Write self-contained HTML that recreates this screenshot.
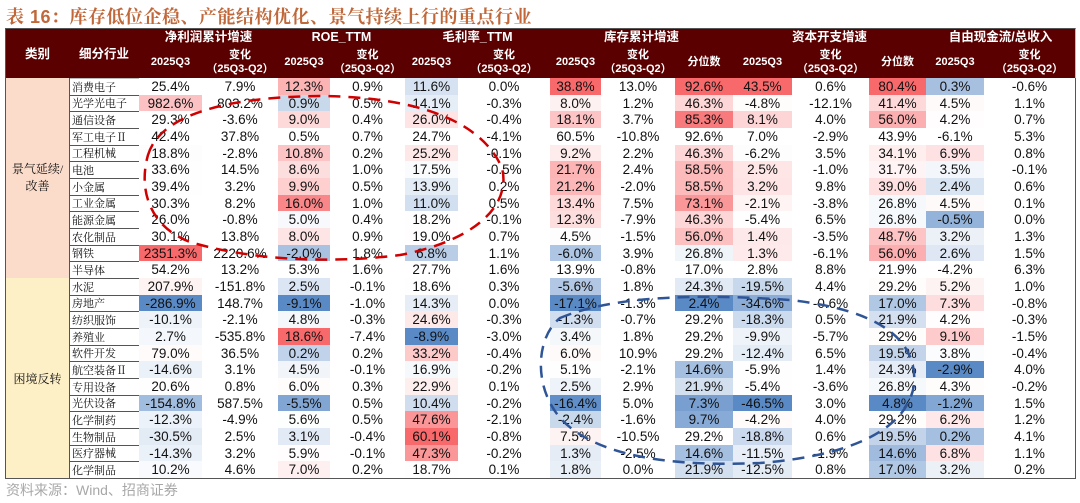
<!DOCTYPE html>
<html><head><meta charset="utf-8">
<style>
body{margin:0;width:1080px;height:503px;background:#fff;position:relative;overflow:hidden;font-family:"Liberation Sans","Noto Sans CJK SC",sans-serif;}
#title{position:absolute;left:6px;top:3px;font-size:18px;font-weight:bold;color:#c0683a;font-family:"Liberation Sans","Noto Serif CJK SC",serif;letter-spacing:0.5px;}
#src{position:absolute;left:6px;top:480px;font-size:14px;color:#a8a8a8;}
.c{position:absolute;box-sizing:border-box;border-right:1px solid #555;border-bottom:1px solid #555;display:flex;align-items:center;justify-content:center;font-size:13.5px;color:#111;white-space:nowrap;}
.h{background:#5a0000;color:#fff;font-size:11px;font-weight:bold;text-align:center;line-height:14px;border-color:#bbb;}
.g{font-size:12.5px;}
.n{justify-content:flex-start;padding-left:3px;font-size:11px;font-family:"Liberation Serif","Noto Serif CJK SC",serif;}
#tbl{position:absolute;left:0;top:0;}
svg{position:absolute;left:0;top:0;pointer-events:none;}
</style></head><body>
<div id="title">表 16：库存低位企稳、产能结构优化、景气持续上行的重点行业</div>
<div id="tbl"></div>
<svg width="1080" height="503">
<path d="M148,155 C160,115 225,97 320,96 C420,97 482,122 502,168 C512,208 470,242 400,255 C330,264 250,260 190,242 C150,227 138,190 148,155 Z" fill="none" stroke="#d00000" stroke-width="2.5" stroke-dasharray="12 8"/>
<path d="M560,318 C610,297 690,293 790,300 C880,310 918,340 914,385 C907,430 850,456 760,463 C670,467 598,456 563,421 C533,390 535,338 560,318 Z" fill="none" stroke="#2f5597" stroke-width="2.5" stroke-dasharray="12 8"/>
</svg>
<div id="src">资料来源：Wind、招商证券</div>
<script>
const industries=["消费电子","光学光电子","通信设备","军工电子Ⅱ","工程机械","电池","小金属","工业金属","能源金属","农化制品","钢铁","半导体","水泥","房地产","纺织服饰","养殖业","软件开发","航空装备Ⅱ","专用设备","光伏设备","化学制药","生物制品","医疗器械","化学制品"];
const netProfit=[25.4,982.6,29.3,42.4,18.8,33.6,39.4,30.3,26.0,30.1,2351.3,54.2,207.9,-286.9,-10.1,2.7,79.0,-14.6,20.6,-154.8,-12.3,-30.5,-14.3,10.2];
const netProfitChg=[7.9,803.2,-3.6,37.8,-2.8,14.5,3.2,8.2,-0.8,13.8,2220.6,13.2,-151.8,148.7,-2.1,-535.8,36.5,3.1,0.8,587.5,-4.9,2.5,3.2,4.6];
const roe=[12.3,0.9,9.0,0.5,10.8,8.6,9.9,16.0,5.0,8.0,-2.0,5.3,2.5,-9.1,4.8,18.6,0.2,4.5,6.0,-5.5,5.6,3.1,5.9,7.0];
const roeChg=[0.9,0.5,0.4,0.7,0.2,1.0,0.5,1.0,0.4,0.9,1.8,1.6,-0.1,-1.0,-0.3,-7.4,0.2,-0.1,0.3,0.5,0.5,-0.4,-0.1,0.2];
const gm=[11.6,14.1,26.0,24.7,25.2,17.5,13.9,11.0,18.2,19.0,6.8,27.7,18.6,14.3,24.6,-8.9,33.2,16.9,22.9,10.4,47.6,60.1,47.3,18.7];
const gmChg=[0.0,-0.3,-0.4,-4.1,-0.1,-0.5,0.2,0.5,-0.1,0.7,1.1,1.6,0.3,0.0,-0.3,-3.0,-0.4,-0.2,0.1,-0.2,-2.1,-0.8,-0.2,0.1];
const inv=[38.8,8.0,18.1,60.5,9.2,21.7,21.2,13.4,12.3,4.5,-6.0,13.9,-5.6,-17.1,-1.3,3.4,6.0,5.1,2.5,-16.4,-2.4,7.5,1.3,1.8];
const invChg=[13.0,1.2,3.7,-10.8,2.2,2.4,-2.0,7.5,-7.9,-1.5,3.9,-0.8,1.8,-1.3,-0.7,1.8,10.9,-2.1,2.9,5.0,-1.6,-10.5,-2.5,0.0];
const invPct=[92.6,46.3,85.3,92.6,46.3,58.5,58.5,73.1,46.3,56.0,26.8,17.0,24.3,2.4,29.2,29.2,29.2,14.6,21.9,7.3,9.7,29.2,14.6,21.9];
const capex=[43.5,-4.8,8.1,7.0,-6.2,2.5,3.2,-2.1,-5.4,1.4,1.3,2.8,-19.5,-34.6,-18.3,-9.9,-12.4,-5.9,-5.4,-46.5,-4.2,-18.8,-11.5,-12.5];
const capexChg=[0.6,-12.1,4.0,-2.9,3.5,-1.0,9.8,-3.8,6.5,-3.5,-6.1,8.8,4.4,-0.6,0.5,-5.7,6.5,1.4,-3.6,3.0,4.0,0.6,-1.9,0.8];
const capexPct=[80.4,41.4,56.0,43.9,34.1,31.7,39.0,26.8,26.8,48.7,56.0,21.9,29.2,17.0,21.9,29.2,19.5,24.3,26.8,4.8,29.2,19.5,14.6,17.0];
const fcf=[0.3,4.5,4.2,-6.1,6.9,3.5,2.4,4.5,-0.5,3.2,2.6,-4.2,5.2,7.3,4.2,9.1,3.8,-2.9,4.3,-1.2,6.2,0.2,6.8,3.2];
const fcfChg=[-0.6,1.1,0.7,5.3,0.8,-0.1,0.6,0.1,0.0,1.3,1.5,6.3,1.0,-0.8,-0.3,-1.5,-0.4,4.0,-0.2,1.5,1.2,4.1,1.1,0.2];
const uncoloredRows=[3,11];

const xs=[5,69,139,202,278,330,405,458,550,601,675,733,792,869,926,984,1075];
const Y0=78, RH=16.67;
const tbl=document.getElementById('tbl');
function cell(x1,x2,y1,y2,txt,cls,bg){
  const d=document.createElement('div');
  d.className='c '+(cls||'');
  d.style.left=x1+'px';d.style.top=y1+'px';d.style.width=(x2-x1+1)+'px';d.style.height=(y2-y1+1)+'px';
  if(bg)d.style.background=bg;
  d.innerHTML=txt;
  tbl.appendChild(d);return d;
}
let d;
d=cell(5,69,28,78,'类别','h g');d.style.borderLeft='1px solid #555';d.style.borderTop='1px solid #555';
d=cell(69,139,28,78,'细分行业','h g');d.style.borderTop='1px solid #555';
const groups=[["净利润累计增速",2,4],["ROE_TTM",4,6],["毛利率_TTM",6,8],["库存累计增速",8,11],["资本开支增速",11,14],["自由现金流/总收入",14,16]];
groups.forEach(g=>{d=cell(xs[g[1]],xs[g[2]],28,45,g[0],'h g');d.style.borderTop='1px solid #555';});
const subs=["2025Q3","变化<br>（25Q3-Q2）","2025Q3","变化<br>（25Q3-Q2）","2025Q3","变化<br>（25Q3-Q2）","2025Q3","变化<br>（25Q3-Q2）","分位数","2025Q3","变化<br>（25Q3-Q2）","分位数","2025Q3","变化<br>（25Q3-Q2）"];
subs.forEach((s,i)=>{d=cell(xs[i+2],xs[i+3],45,78,s,'h');});
const cols=[netProfit,netProfitChg,roe,roeChg,gm,gmChg,inv,invChg,invPct,capex,capexChg,capexPct,fcf,fcfChg];
const colored=[true,false,true,false,true,false,true,false,true,true,false,true,true,false];
const redGain=[1,1,1,1,1,1,1,1,1,1,1,1,0.35,1];
function mix(a,b,t){return 'rgb('+a.map((v,i)=>Math.round(v+(b[i]-v)*t)).join(',')+')';}
const RED=[248,105,107],BLUE=[90,138,198],WHITE=[255,255,255];
function scaleFor(arr,gain){
  const v=arr.filter((x,i)=>!uncoloredRows.includes(i)).slice().sort((a,b)=>a-b);
  const mn=v[0],mx=v[v.length-1];
  const n=v.length,mid=(v[Math.floor((n-1)/2)]+v[Math.ceil((n-1)/2)])/2;
  return x=>{
    if(x>=mid)return mix(WHITE,RED,mx===mid?0:gain*(x-mid)/(mx-mid));
    return mix(WHITE,BLUE,mn===mid?0:(mid-x)/(mid-mn));
  };
}
const scales=cols.map((c,i)=>colored[i]?scaleFor(c,redGain[i]):null);
d=cell(5,69,Y0,Y0+RH*12,'景气延续/<br>改善','n');
d.style.background='#fbdccb';d.style.borderLeft='1px solid #555';d.style.justifyContent='center';d.style.textAlign='center';d.style.fontSize='12px';d.style.padding='0';d.style.lineHeight='17px';
d=cell(5,69,Y0+RH*12,Y0+RH*24,'困境反转','n');
d.style.background='#fdefc6';d.style.borderLeft='1px solid #555';d.style.justifyContent='center';d.style.fontSize='12px';d.style.padding='0';
industries.forEach((name,r)=>{
  const y1=Math.round(Y0+r*RH),y2=Math.round(Y0+(r+1)*RH);
  d=cell(69,139,y1,y2,name,'n');
  
  
  cols.forEach((c,j)=>{
    const v=c[r];
    const bg=(scales[j]&&!uncoloredRows.includes(r))?scales[j](v):'#fff';
    const e=cell(xs[j+2],xs[j+3],y1,y2,v.toFixed(1)+'%','',bg);
    
    
  });
});
</script>
</body></html>
